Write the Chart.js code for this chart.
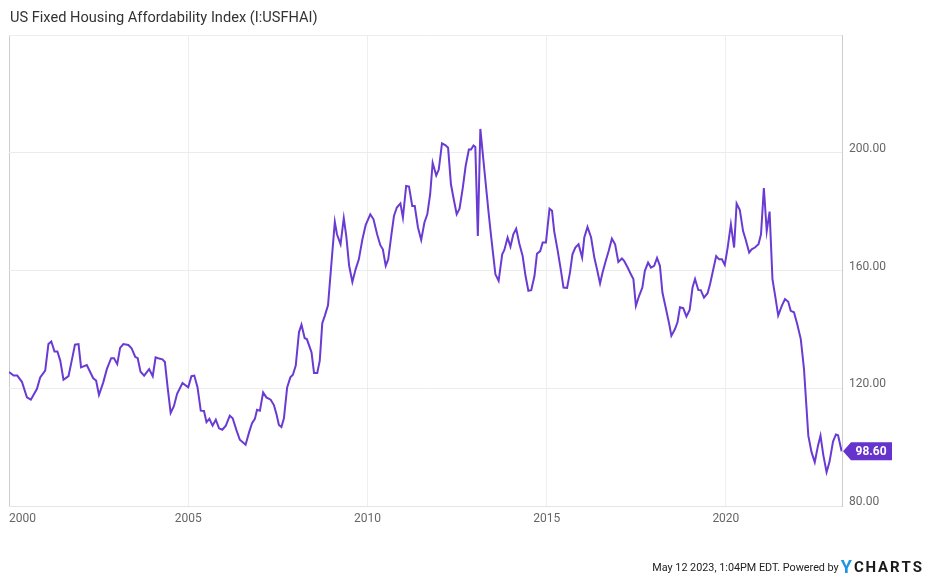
<!DOCTYPE html>
<html>
<head>
<meta charset="utf-8">
<title>US Fixed Housing Affordability Index</title>
<script src="https://cdn.jsdelivr.net/npm/chart.js@4.4.0/dist/chart.umd.min.js"></script>
<style>
  html, body { margin: 0; padding: 0; background: #fff; }
  #wrap { width: 930px; height: 577px; position: relative; }
</style>
</head>
<body>
<div id="wrap"><canvas id="hai"></canvas></div>
<script>
// Data (decimal year, index value)
const dates = [
  2000.00,2000.13,2000.23,2000.36,2000.50,2000.61,2000.78,2000.87,2001.01,2001.10,
  2001.18,2001.27,2001.35,2001.43,2001.52,2001.66,2001.75,2001.84,2001.94,2002.01,
  2002.17,2002.35,2002.43,2002.51,2002.63,2002.73,2002.85,2002.93,2003.02,2003.10,
  2003.19,2003.33,2003.42,2003.52,2003.59,2003.67,2003.77,2003.91,2004.01,2004.09,
  2004.16,2004.28,2004.35,2004.42,2004.51,2004.60,2004.69,2004.84,2005.00,2005.09,
  2005.17,2005.26,2005.35,2005.44,2005.51,2005.59,2005.68,2005.77,2005.86,2005.95,
  2006.05,2006.16,2006.24,2006.35,2006.44,2006.60,2006.70,2006.78,2006.86,2006.92,
  2007.00,2007.09,2007.18,2007.30,2007.39,2007.46,2007.53,2007.60,2007.67,2007.76,
  2007.85,2007.92,2008.00,2008.09,2008.16,2008.25,2008.31,2008.44,2008.51,2008.60,
  2008.67,2008.74,2008.81,2008.90,2008.99,2009.09,2009.15,2009.25,2009.34,2009.41,
  2009.49,2009.58,2009.67,2009.76,2009.86,2009.95,2010.08,2010.17,2010.27,2010.36,
  2010.43,2010.51,2010.58,2010.67,2010.74,2010.82,2010.92,2010.99,2011.08,2011.16,
  2011.25,2011.32,2011.41,2011.50,2011.59,2011.67,2011.75,2011.82,2011.92,2011.99,
  2012.08,2012.18,2012.25,2012.33,2012.40,2012.49,2012.57,2012.66,2012.74,2012.83,
  2012.89,2012.96,2013.01,2013.08,2013.15,2013.27,2013.38,2013.45,2013.57,2013.66,
  2013.76,2013.82,2013.91,2013.99,2014.07,2014.15,2014.24,2014.33,2014.41,2014.49,
  2014.57,2014.66,2014.73,2014.82,2014.89,2014.98,2015.08,2015.15,2015.21,2015.31,
  2015.40,2015.47,2015.57,2015.65,2015.72,2015.80,2015.89,2015.99,2016.05,2016.14,
  2016.24,2016.33,2016.40,2016.49,2016.56,2016.65,2016.73,2016.82,2016.91,2017.00,
  2017.10,2017.16,2017.26,2017.35,2017.42,2017.49,2017.58,2017.67,2017.74,2017.83,
  2017.91,2018.00,2018.08,2018.16,2018.23,2018.33,2018.42,2018.48,2018.58,2018.65,
  2018.72,2018.81,2018.90,2018.99,2019.07,2019.14,2019.23,2019.30,2019.39,2019.49,
  2019.56,2019.64,2019.73,2019.81,2019.89,2019.97,2020.05,2020.14,2020.23,2020.30,
  2020.39,2020.48,2020.55,2020.65,2020.72,2020.81,2020.91,2020.98,2021.06,2021.14,
  2021.22,2021.30,2021.39,2021.46,2021.56,2021.65,2021.74,2021.81,2021.90,2021.99,
  2022.09,2022.18,2022.24,2022.30,2022.39,2022.48,2022.57,2022.64,2022.72,2022.81,
  2022.89,2022.99,2023.07,2023.13,2023.23
];

const values = [
  125.5,124.3,124.3,122.2,116.9,116.1,119.8,123.7,126,135,
  135.9,132.5,132.5,129.4,122.9,124.1,129.4,134.8,135,127.1,
  127.9,123.4,122.6,117.7,122,126.5,130.2,130.2,128.2,133.7,
  135,134.7,133.6,130.7,130.2,125.6,124.3,126.5,124.1,130.5,
  130.2,129.8,128.9,120.9,111.6,113.9,118.1,121.8,120.3,124.1,
  124.3,120.3,112.4,112.3,108.5,109.6,107.3,109.3,106.4,105.9,
  107.3,110.7,109.8,105.6,102.5,100.8,105.1,108.1,109.6,112.7,
  112.4,118.6,116.9,116.1,114.3,111.3,107.5,106.8,109.8,120.3,
  123.7,124.6,127.7,139,141.6,137,136.7,132.2,125.2,125.2,
  129.4,142.1,144.6,148.2,161.6,176.5,172.3,168.9,177.8,171.7,
  161.6,156.1,160.4,163.8,170.6,175.4,179.1,177.4,172.3,168.6,
  167.2,161.6,163.8,172.3,178.5,181.4,182.8,178,188.7,188.5,
  181.9,181.9,174.6,170.4,176.3,179.1,185.9,196.6,192.3,194.3,
  203.2,202.5,201.7,189.3,184.7,179.1,181,188.1,195.5,201.1,
  201.1,202.5,202,171.7,208.1,193.2,179.7,171.7,158.7,156.5,
  165.5,167,171.2,168.1,172.3,174.2,169,164.9,158.2,153.1,
  153.3,158.1,165.7,166.6,169.5,169.5,181,180.3,173.4,166.6,
  159.9,154.2,154.1,159.3,165.5,167.8,168.9,164.4,171.2,174.8,
  171.2,164.4,160.7,155.6,159.3,163.3,166.6,170.8,168.9,162.9,
  164.1,163.3,161,158.7,157.1,148,151.4,154.2,159.9,162.7,
  161,161.6,164.3,161.6,152.5,146.9,141.8,137.8,140.1,142.4,
  147.5,147.2,144.4,146.6,154.2,157.1,153.4,153.3,150.8,152.3,
  155.4,159.9,164.9,163.8,163.8,161.9,167.8,175.7,167.8,182.7,
  180.5,173.4,170.6,166.1,167.2,167.8,168.9,172.3,188,173.4,
  180,157.1,150.3,144.7,148,150.3,149.4,146.3,145.8,141.8,
  136.7,126.5,115.2,103.9,98.3,94.9,100.5,103.9,97.2,91.5,
  94.9,101.9,104.3,104,98.6
];

const yearTicks = [2000, 2005, 2010, 2015, 2020];
const valueTicks = [80, 120, 160, 200, 240];
const xMin = 2000;
const xMax = 2023.24;

const titleText = "US Fixed Housing Affordability Index (I:USFHAI)";
const footerText = "May 12 2023, 1:04PM EDT. Powered by";
const lastLabel = "98.60";

const lineColor = "#6a3bd2";

// Draws title, footer and the last-value flag
const overlayPlugin = {
  id: "overlay",
  afterDraw(chart) {
    const ctx = chart.ctx;
    const area = chart.chartArea;
    ctx.save();

    // title
    ctx.fillStyle = "#333";
    ctx.font = "14.6px Roboto";
    ctx.textAlign = "left";
    ctx.textBaseline = "middle";
    ctx.fillText(titleText, 10, 18);

    // last value flag
    const meta = chart.getDatasetMeta(0);
    const last = meta.data[meta.data.length - 1];
    const x = area.right + 1;
    const y = last.y;
    ctx.fillStyle = "#6633cc";
    ctx.beginPath();
    ctx.moveTo(x, y);
    ctx.lineTo(x + 8, y - 9);
    ctx.lineTo(x + 49, y - 9);
    ctx.lineTo(x + 49, y + 9);
    ctx.lineTo(x + 8, y + 9);
    ctx.closePath();
    ctx.fill();
    ctx.fillStyle = "#fff";
    ctx.font = "bold 12px Roboto";
    ctx.textAlign = "center";
    ctx.fillText(lastLabel, x + 28, y + 1);

    // footer with logo
    const fy = 567;
    const letters = "CHARTS".split("");
    ctx.font = "bold 15px Roboto";
    const spacing = 1.9;
    let total = 0;
    letters.forEach((c) => { total += ctx.measureText(c).width + spacing; });
    total -= spacing;
    let cx = 922 - total;
    ctx.fillStyle = "#1a1a1a";
    ctx.textAlign = "left";
    letters.forEach((c) => {
      ctx.fillText(c, cx, fy + 1);
      cx += ctx.measureText(c).width + spacing;
    });
    const yStart = 922 - total - 2;
    ctx.font = "bold 18px Roboto";
    ctx.fillStyle = "#1b95e8";
    ctx.textAlign = "right";
    ctx.fillText("Y", yStart, fy + 1);
    const yW = ctx.measureText("Y").width;

    ctx.font = "10.8px Roboto";
    ctx.fillStyle = "#222";
    ctx.fillText(footerText, yStart - yW - 2, fy + 1);

    ctx.restore();
  },
};

const ctx = document.getElementById("hai").getContext("2d");
const chart = new Chart(ctx, {
  type: "line",
  data: {
    datasets: [
      {
        label: "US Fixed Housing Affordability Index",
        data: dates.map((d, i) => ({ x: d, y: values[i] })),
        borderColor: lineColor,
        borderWidth: 2,
        pointRadius: 0,
        tension: 0,
        fill: false,
      },
    ],
  },
  options: {
    responsive: true,
    maintainAspectRatio: false,
    animation: false,
    layout: {
      padding: { left: 9, top: 35, right: 0, bottom: 41 },
    },
    plugins: {
      legend: { display: false },
      tooltip: { enabled: false },
      title: { display: false },
    },
    scales: {
      x: {
        type: "linear",
        min: xMin,
        max: xMax,
        afterBuildTicks: function (scale) {
          scale.ticks = yearTicks.map((v) => ({ value: v })).concat([{ value: xMax }]);
        },
        afterFit: function (scale) {
          scale.height = 30;
        },
        ticks: {
          align: "inner",
          padding: 6,
          maxRotation: 0,
          autoSkip: false,
          color: "#666",
          font: { family: "Roboto", size: 12 },
          callback: function (value) {
            return yearTicks.includes(value) ? String(value) : "";
          },
        },
        grid: {
          drawTicks: false,
          color: function (context) {
            const v = context.tick && context.tick.value;
            if (v === xMin) return "#cccccc";
            if (v === xMax) return "rgba(0,0,0,0)";
            return "#eeeeee";
          },
        },
        border: { display: true, color: "#e4e4e4" },
      },
      y: {
        position: "right",
        min: 80,
        max: 240,
        afterBuildTicks: function (scale) {
          scale.ticks = valueTicks.map((v) => ({ value: v }));
        },
        afterFit: function (scale) {
          scale.width = 88;
        },
        ticks: {
          padding: 7,
          labelOffset: -4,
          color: "#666",
          font: { family: "Roboto", size: 12 },
          callback: function (value) {
            return value > 200 ? "" : value.toFixed(2);
          },
        },
        grid: {
          drawTicks: false,
          color: "#ececec",
        },
        border: { display: true, color: "#cccccc" },
      },
    },
  },
  plugins: [overlayPlugin],
});
</script>
</body>
</html>
